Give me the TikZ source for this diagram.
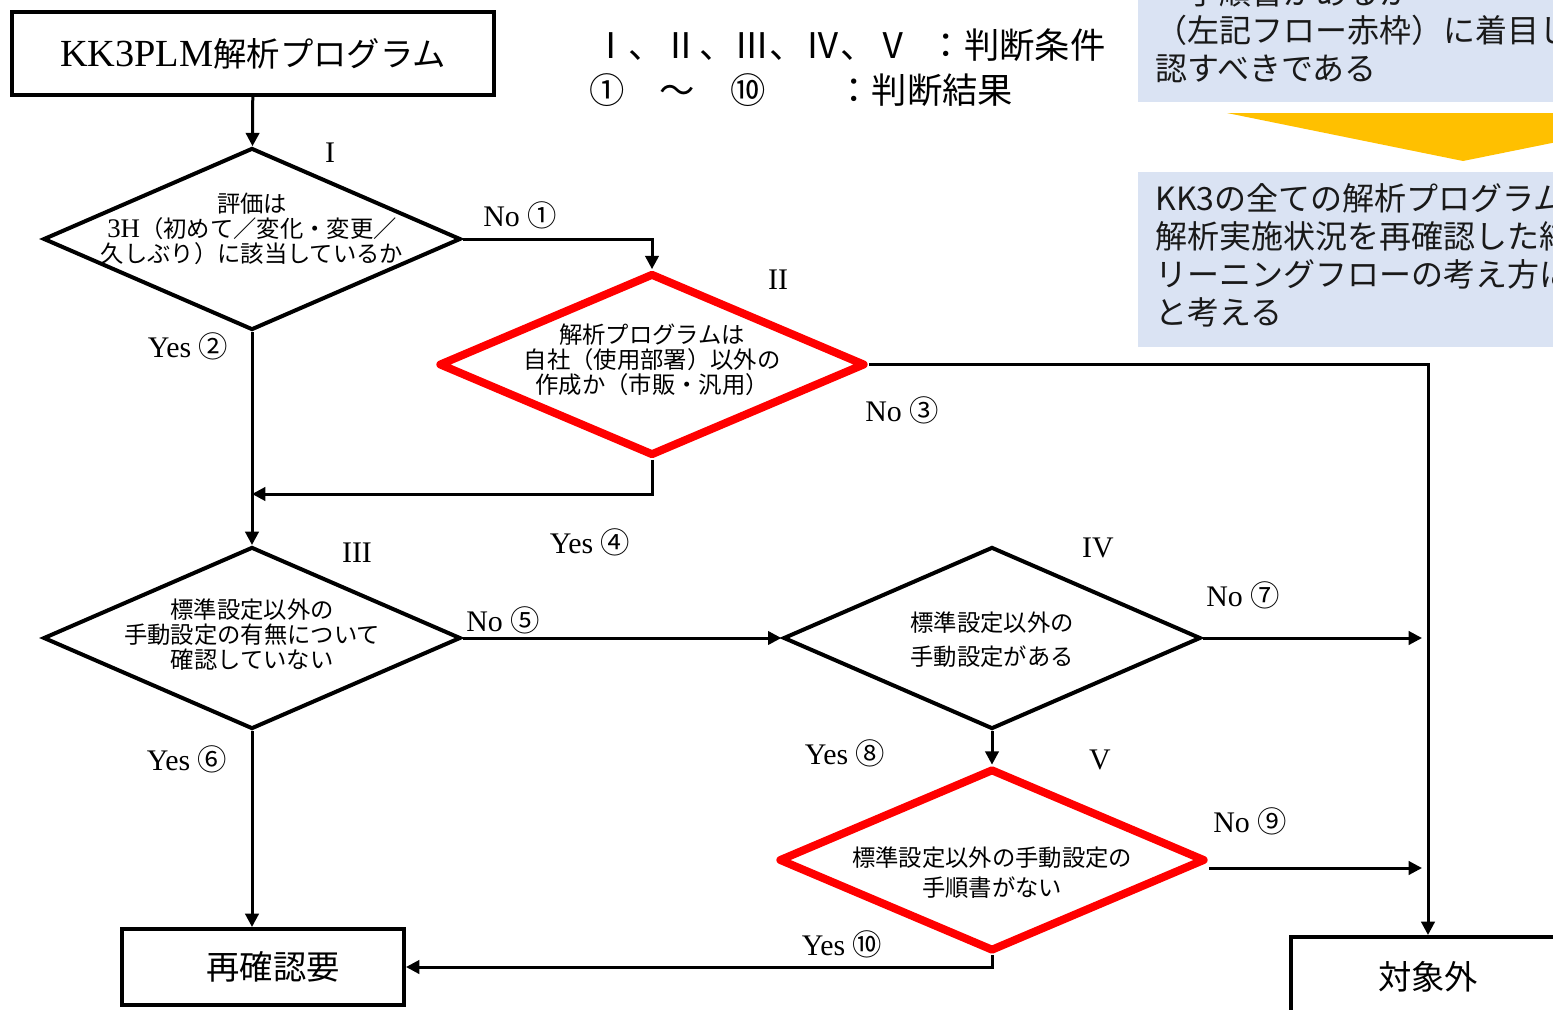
\documentclass[tikz,border=0pt]{standalone}
\usepackage{fontspec}
\setmainfont{Liberation Serif}[Scale=1.15]
\newfontfamily\jp{Noto Sans CJK JP}
\usetikzlibrary{shapes.geometric,arrows.meta}
\definecolor{panelblue}{HTML}{DAE3F3}
\definecolor{chevron}{HTML}{FFC000}
\newcommand{\cn}[1]{{\jp\fontsize{22}{24}\selectfont #1}}

\begin{document}
\begin{tikzpicture}[x=0.75pt,y=-0.75pt,
box/.style = {draw, line width=3pt, inner sep=0pt, font=\jp\fontsize{25}{29}\selectfont},
cond/.style = {draw, diamond, line width=3pt, inner sep=0pt,
    minimum width=313pt, minimum height=136.5pt},
redcond/.style = {cond, draw=red, line width=6pt, line join=round,
    minimum width=320pt, minimum height=137pt},
ctext/.style = {align=center, font=\jp\fontsize{17.5}{18.75}\selectfont},
lab/.style = {font=\fontsize{19.5}{23}\selectfont},
arr/.style = {line width=2.25pt, -{Triangle[length=10pt,width=10pt]}},
legend/.style = {anchor=west, inner sep=0pt, font=\jp\fontsize{26.5}{30}\selectfont},
note/.style = {anchor=west, align=left, text=black!90, font=\jp\fontsize{24}{28.5}\selectfont}]
\useasboundingbox (0,0) rectangle (1553,1010);
\fill[white] (0,0) rectangle (1553,1010);

\fill[panelblue] (1138,-40) rectangle (1620,102);
\fill[panelblue] (1138,172) rectangle (1620,347);
\fill[chevron] (1227,113) -- (1700,113) -- (1463,161) -- cycle;
\node[note] (noteA) at (1150,30) {　手順書があるか\\（左記フロー赤枠）に着目し\\認すべきである};
\node[note] (noteB) at (1150,255) {KK3の全ての解析プログラム\\解析実施状況を再確認した結\\リーニングフローの考え方に\\と考える};

\node[legend] (legA) at (593,45) {Ⅰ、Ⅱ、Ⅲ、Ⅳ、Ⅴ\enspace：判断条件};
\node[legend] (legB) at (589,90) {①　～　⑩　　：判断結果};

\node[box, minimum width=361.5pt, minimum height=62.25pt] (start) at (253,53.5)
    {\rmfamily KK3PLM{\jp 解析プログラム}};
\node[cond] (dI) at (252,239) {};
\node[redcond] (dII) at (652,364.5) {};
\node[cond] (dIII) at (252,638) {};
\node[cond] (dIV) at (992,638) {};
\node[redcond] (dV) at (992,860) {};
\node[box, minimum width=211.5pt, minimum height=57pt] (recheck) at (263,967) {\hspace{15pt}再確認要};
\node[box, minimum width=205.5pt, minimum height=60pt] (out) at (1428,977) {対象外};

\node[ctext] (tI) at (252,229) {評価は\\{\rmfamily 3H}（初めて／変化・変更／\\久しぶり）に該当しているか};
\node[ctext] (tII) at (652,360) {解析プログラムは\\自社（使用部署）以外の\\作成か（市販・汎用）};
\node[ctext] (tIII) at (252,635) {標準設定以外の\\手動設定の有無について\\確認していない};
\node[ctext, font=\jp\fontsize{17.5}{25.5}\selectfont] (tIV) at (992,640) {標準設定以外の\\手動設定がある};
\node[ctext, font=\jp\fontsize{17.5}{22.5}\selectfont] (tV) at (992,873) {標準設定以外の手動設定の\\手順書がない};

\node[lab] (nI) at (330,153) {I};
\node[lab] (nII) at (778,280) {II};
\node[lab] (nIII) at (357,553) {III};
\node[lab] (nIV) at (1098,548) {IV};
\node[lab] (nV) at (1100,760) {V};

\coordinate (mI) at (252,494);
\coordinate (pIV) at (1422,638);
\coordinate (pV) at (1422,868);

\draw[arr] (start) -- (dI);
\draw[arr] (dI.east) -| (dII.north);
\draw[arr] (dII.east) -| (out.north);
\draw[arr] (dII.south) |- (mI);
\draw[arr] (dI.south) -- (dIII.north);
\draw[arr] (dIII.east) -- (dIV.west);
\draw[arr] (dIV.east) -- (pIV);
\draw[arr] (dIV.south) -- (dV.north);
\draw[arr] (dV.east |- pV) -- (pV);
\draw[arr] (dV.south) |- (recheck.east);
\draw[arr] (dIII.south) -- (dIII.south |- recheck.north);

\node[lab] (r1) at (520,215) {No \cn{①}};
\node[lab] (r2) at (188,346) {Yes \cn{②}};
\node[lab] (r3) at (902,410) {No \cn{③}};
\node[lab] (r4) at (590,542) {Yes \cn{④}};
\node[lab] (r5) at (503,620) {No \cn{⑤}};
\node[lab] (r6) at (187,759) {Yes \cn{⑥}};
\node[lab] (r7) at (1243,595) {No \cn{⑦}};
\node[lab] (r8) at (845,753) {Yes \cn{⑧}};
\node[lab] (r9) at (1250,821) {No \cn{⑨}};
\node[lab] (r10) at (842,944) {Yes \cn{⑩}};
\end{tikzpicture}
\end{document}
